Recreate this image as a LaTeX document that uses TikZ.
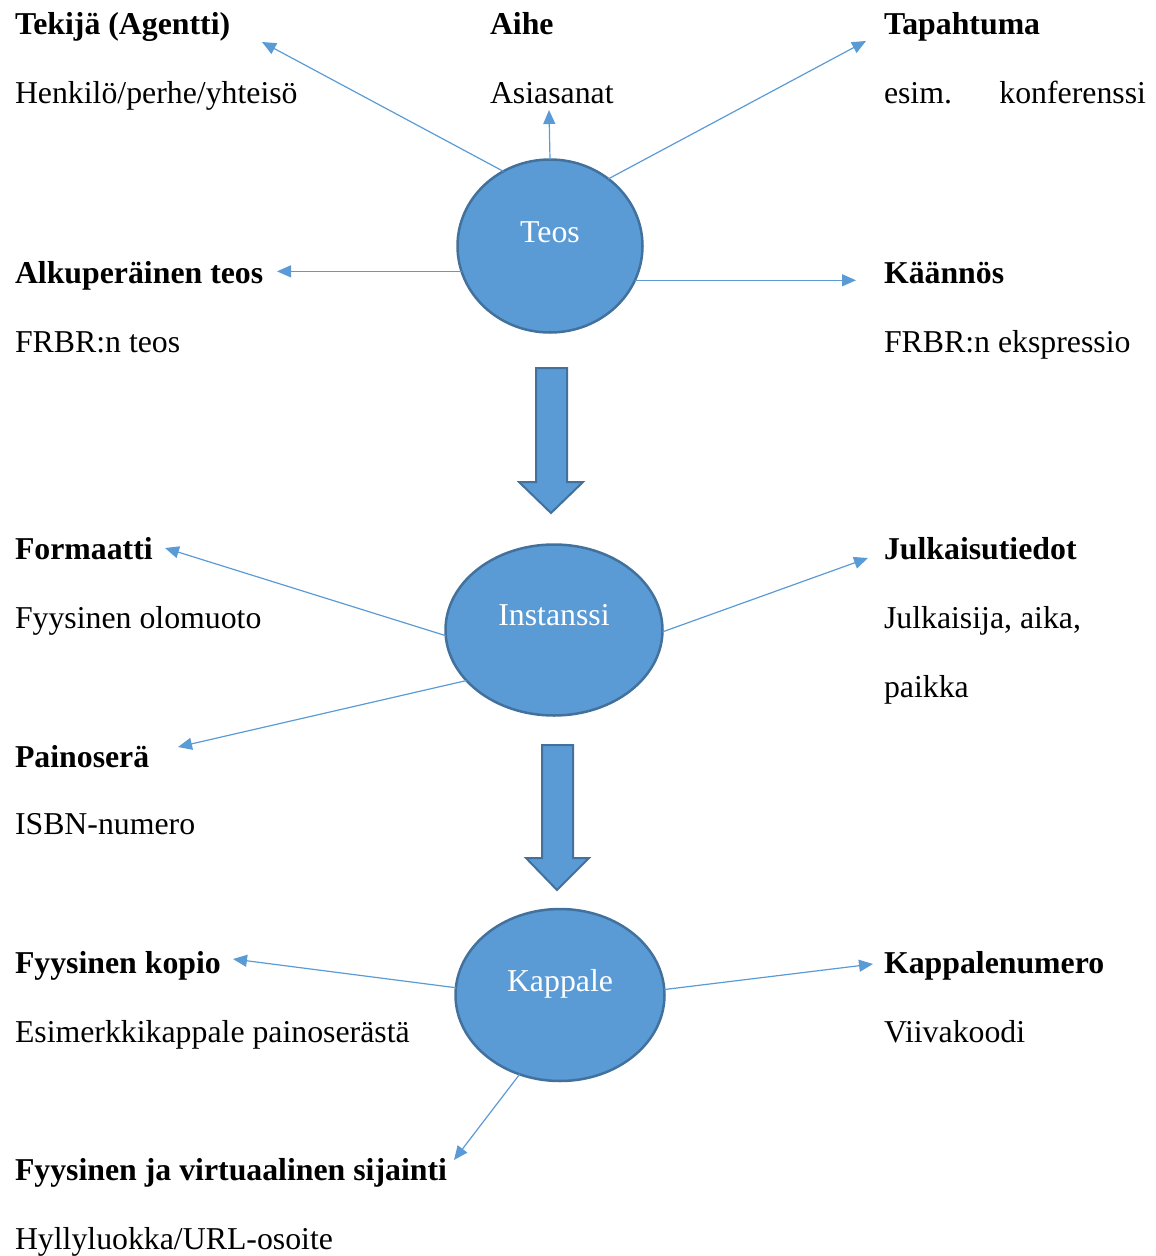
\documentclass[tikz,border=0pt]{standalone}
\usepackage{fontspec}
\setmainfont{Liberation Serif}
\usetikzlibrary{arrows.meta,shapes.geometric}
\definecolor{acc}{HTML}{5B9BD5}
\definecolor{accd}{HTML}{41719C}
\begin{document}
\begin{tikzpicture}[x=1pt,y=-1pt,
  every node/.style={inner sep=0pt,outer sep=0pt},
  ttl/.style={anchor=base west,font=\fontsize{31.8}{38}\selectfont\bfseries},
  dsc/.style={anchor=base west,font=\fontsize{31.8}{38}\selectfont},
  ell/.style={ellipse,draw=accd,fill=acc,line width=2.5pt},
  ellt/.style={text=white,font=\fontsize{31.8}{38}\selectfont},
  conn/.style={draw=acc,line width=1.2pt,-{Triangle[length=14pt,width=12pt]}},
  blk/.style={draw=accd,fill=acc,line width=2pt,line join=miter}]
\useasboundingbox (0,0) rectangle (1156,1256);

% ellipses
\node[ell,minimum width=185pt,minimum height=173pt,label={[ellt,yshift=14pt]center:Teos}] (teos) at (550,246) {};
\node[ell,minimum width=217pt,minimum height=171pt,label={[ellt,yshift=15pt]center:Instanssi}] (inst) at (554,630) {};
\node[ell,minimum width=209pt,minimum height=172pt,label={[ellt,yshift=11pt]center:Kappale}] (kapp) at (560,995) {};

% texts
\node[ttl] (tekija) at (15,34) {Tekijä (Agentti)};
\node[dsc] (henk) at (15,103) {Henkilö/perhe/yhteisö};
\node[ttl] (aihe) at (490,34) {Aihe};
\node[dsc] (asia) at (490,103) {Asiasanat};
\node[ttl] (tapa) at (884,34) {Tapahtuma};
\node[dsc] (esim) at (884,103) {\makebox[262pt]{esim.\hfill konferenssi}};
\node[ttl] (alku) at (15,283) {Alkuperäinen teos};
\node[dsc] (frbrt) at (15,352) {FRBR:n teos};
\node[ttl] (kaan) at (884,283) {Käännös};
\node[dsc] (frbre) at (884,352) {FRBR:n ekspressio};
\node[ttl] (form) at (15,559) {Formaatti};
\node[dsc] (fyys) at (15,628) {Fyysinen olomuoto};
\node[ttl] (julk) at (884,559) {Julkaisutiedot};
\node[dsc] (julk2) at (884,628) {Julkaisija, aika,};
\node[dsc] (paik) at (884,697) {paikka};
\node[ttl] (pain) at (15,767) {Painoserä};
\node[dsc] (isbn) at (15,834) {ISBN-numero};
\node[ttl] (kopio) at (15,973) {Fyysinen kopio};
\node[dsc] (esimk) at (15,1042) {Esimerkkikappale painoserästä};
\node[ttl] (knum) at (884,973) {Kappalenumero};
\node[dsc] (viiva) at (884,1042) {Viivakoodi};
\node[ttl] (sij) at (15,1180) {Fyysinen ja virtuaalinen sijainti};
\node[dsc] (hyl) at (15,1249) {Hyllyluokka/URL-osoite};

% arrow tips
\coordinate (t1) at (262,42);
\coordinate (t2) at (549,110);
\coordinate (t3) at (866,41);
\coordinate (t4) at (277,272);
\coordinate (t5) at (856,281);
\coordinate (t6) at (165,548);
\coordinate (t7) at (868,558);
\coordinate (t8) at (178,747);
\coordinate (t9) at (233,959);
\coordinate (t10) at (873,964);
\coordinate (t11) at (454,1160);

\draw[conn] (teos.122) -- (t1);
\draw[conn] (teos.90) -- (t2);
\draw[conn] (teos.49.5) -- (t3);
\draw[conn] (teos.196.5) -- (teos.196.5 -| t4);
\draw[conn] (teos.-22) -- (teos.-22 -| t5);
\draw[conn] (inst.183) -- (t6);
\draw[conn] (inst.-1) -- (t7);
\draw[conn] (inst.210) -- (t8);
\draw[conn] (kapp.176) -- (t9);
\draw[conn] (kapp.3) -- (t10);
\draw[conn] (kapp.243.7) -- (t11);

% block arrows
\draw[blk] (536,368) -- (567,368) -- (567,482) -- (583,482) -- (551,513) -- (519,482) -- (536,482) -- cycle;
\draw[blk] (542,745) -- (573,745) -- (573,858) -- (589,858) -- (557,890) -- (526,858) -- (542,858) -- cycle;
\end{tikzpicture}
\end{document}
